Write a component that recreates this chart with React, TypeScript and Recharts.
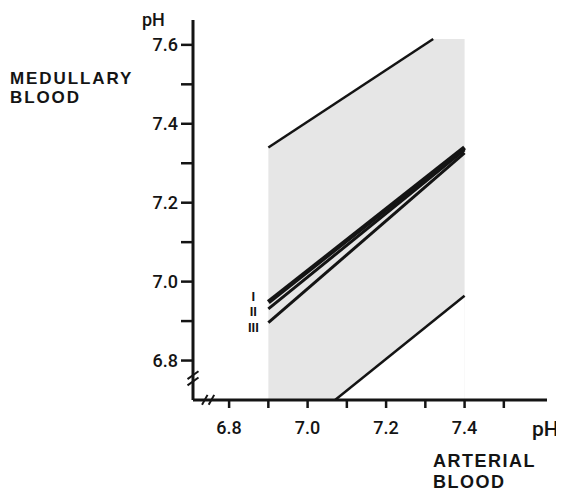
import React from 'react'
import { ComposedChart, Area, Line, XAxis, YAxis, ReferenceLine } from 'recharts'

// region enclosed by the two limit lines (x, lower, upper)
const shadeX = [6.9, 7.07, 7.32, 7.4]
const shadeLow = [6.7, 6.7, 6.9, 6.964]
const shadeHigh = [7.34, 7.45, 7.615, 7.615]

// limit lines
const upperX = [6.9, 7.32]
const upperY = [7.34, 7.615]
const lowerX = [7.07, 7.4]
const lowerY = [6.7, 6.964]

// regression lines I, II, III
const regX = [6.9, 7.4]
const regI = [6.948, 7.34]
const regII = [6.931, 7.334]
const regIII = [6.896, 7.326]

const xTicks = [6.8, 6.9, 7.0, 7.1, 7.2, 7.3, 7.4, 7.5]
const yTicks = [6.8, 6.9, 7.0, 7.1, 7.2, 7.3, 7.4, 7.5, 7.6]

const X_DOMAIN = [6.708, 7.61]
const Y_DOMAIN = [6.7, 7.663]
const W = 556
const H = 490
const MARGIN = { top: 12, right: 17, bottom: 0, left: 0 }

const INK = '#141414'
const FONT = '"Liberation Sans", Arial, sans-serif'
const TICK_FONT = 'Roboto, "Liberation Sans", sans-serif'

const shadeData = shadeX.map((x, i) => ({ x, low: shadeLow[i], high: shadeHigh[i] }))
const toRows = (xs: number[], ys: number[]) => xs.map((x, i) => ({ x, y: ys[i] }))

const fmt = (v: number) => (Math.round(v * 10) % 2 === 0 ? v.toFixed(1) : '')

function romanLabel(text: string, dy: number) {
  return (props: any) => {
    if (props.index !== 0) return <g />
    return (
      <text
        x={props.x - 15}
        y={props.y + dy}
        textAnchor="middle"
        fontSize={13}
        fontWeight="bold"
        fontFamily={FONT}
        fill={INK}
      >
        {text}
      </text>
    )
  }
}

const textStyle: React.CSSProperties = {
  position: 'absolute',
  fontFamily: FONT,
  fontWeight: 'bold',
  fontSize: 18,
  color: INK,
  whiteSpace: 'nowrap',
}

const tickStyle = { fill: INK, fontSize: 18, fontFamily: TICK_FONT, fontWeight: 500 }

// grey band on its own chart underneath: grey up to the upper limit, white up to the lower one
function ShadeLayer() {
  return (
    <ComposedChart width={W} height={H} data={shadeData} margin={MARGIN}>
      <XAxis dataKey="x" type="number" domain={X_DOMAIN} allowDataOverflow height={98} tick={false} tickLine={false} axisLine={false} />
      <YAxis type="number" domain={Y_DOMAIN} allowDataOverflow width={185} tick={false} tickLine={false} axisLine={false} />
      <Area dataKey="high" type="linear" fill="#e6e6e6" fillOpacity={1} stroke="none" isAnimationActive={false} />
      <Area dataKey="low" type="linear" fill="#ffffff" fillOpacity={1} stroke="#ffffff" strokeWidth={1} isAnimationActive={false} />
    </ComposedChart>
  )
}

export default function App() {
  return (
    <div style={{ position: 'relative', width: W, height: H }}>
      <div style={{ position: 'absolute', left: 0, top: 0 }}>
        <ShadeLayer />
      </div>
      <div style={{ position: 'absolute', left: 0, top: 0 }}>
        <ComposedChart width={W} height={H} margin={MARGIN}>
          <XAxis
            dataKey="x"
            type="number"
            domain={X_DOMAIN}
            allowDataOverflow
            ticks={xTicks}
            interval={0}
            tickFormatter={fmt}
            height={98}
            tickSize={8}
            tickMargin={13}
            axisLine={{ stroke: INK, strokeWidth: 3 }}
            tickLine={{ stroke: INK, strokeWidth: 2.5 }}
            tick={tickStyle}
          />
          <YAxis
            type="number"
            domain={Y_DOMAIN}
            allowDataOverflow
            ticks={yTicks}
            interval={0}
            tickFormatter={fmt}
            width={185}
            tickSize={12}
            tickMargin={3}
            axisLine={{ stroke: INK, strokeWidth: 3 }}
            tickLine={{ stroke: INK, strokeWidth: 2.5 }}
            tick={tickStyle}
          />
          <Line data={toRows(upperX, upperY)} dataKey="y" type="linear" dot={false} stroke={INK} strokeWidth={2.5} isAnimationActive={false} />
          <Line data={toRows(lowerX, lowerY)} dataKey="y" type="linear" dot={false} stroke={INK} strokeWidth={2.5} isAnimationActive={false} />
          <Line data={toRows(regX, regIII)} dataKey="y" type="linear" dot={false} stroke={INK} strokeWidth={3} isAnimationActive={false} label={romanLabel('III', 9)} />
          <Line data={toRows(regX, regII)} dataKey="y" type="linear" dot={false} stroke={INK} strokeWidth={3} isAnimationActive={false} label={romanLabel('II', 7)} />
          <Line data={toRows(regX, regI)} dataKey="y" type="linear" dot={false} stroke={INK} strokeWidth={4.5} isAnimationActive={false} label={romanLabel('I', -1)} />
          {/* axis breaks */}
          <ReferenceLine ifOverflow="visible" stroke="#fff" strokeWidth={6} segment={[{ x: 6.708, y: 6.748 }, { x: 6.708, y: 6.762 }]} />
          <ReferenceLine ifOverflow="visible" stroke={INK} strokeWidth={2} segment={[{ x: 6.694, y: 6.737 }, { x: 6.722, y: 6.757 }]} />
          <ReferenceLine ifOverflow="visible" stroke={INK} strokeWidth={2} segment={[{ x: 6.694, y: 6.753 }, { x: 6.722, y: 6.773 }]} />
          <ReferenceLine ifOverflow="visible" stroke="#fff" strokeWidth={6} segment={[{ x: 6.74, y: 6.7 }, { x: 6.754, y: 6.7 }]} />
          <ReferenceLine ifOverflow="visible" stroke={INK} strokeWidth={2} segment={[{ x: 6.731, y: 6.688 }, { x: 6.745, y: 6.713 }]} />
          <ReferenceLine ifOverflow="visible" stroke={INK} strokeWidth={2} segment={[{ x: 6.748, y: 6.688 }, { x: 6.762, y: 6.713 }]} />
        </ComposedChart>
      </div>
      <div style={{ ...textStyle, fontFamily: TICK_FONT, fontWeight: 500, left: 134, top: 3, lineHeight: '18px' }}>pH</div>
      <div style={{ ...textStyle, fontSize: 17, left: 2, top: 61, lineHeight: '19px', letterSpacing: 1.9 }}>
        MEDULLARY
        <br />
        BLOOD
      </div>
      <div style={{ ...textStyle, fontFamily: TICK_FONT, fontWeight: 500, fontSize: 21, left: 524, top: 410, lineHeight: '22px' }}>pH</div>
      <div style={{ ...textStyle, left: 425, top: 443, lineHeight: '21px', letterSpacing: 1.5 }}>
        ARTERIAL
        <br />
        BLOOD
      </div>
    </div>
  )
}
